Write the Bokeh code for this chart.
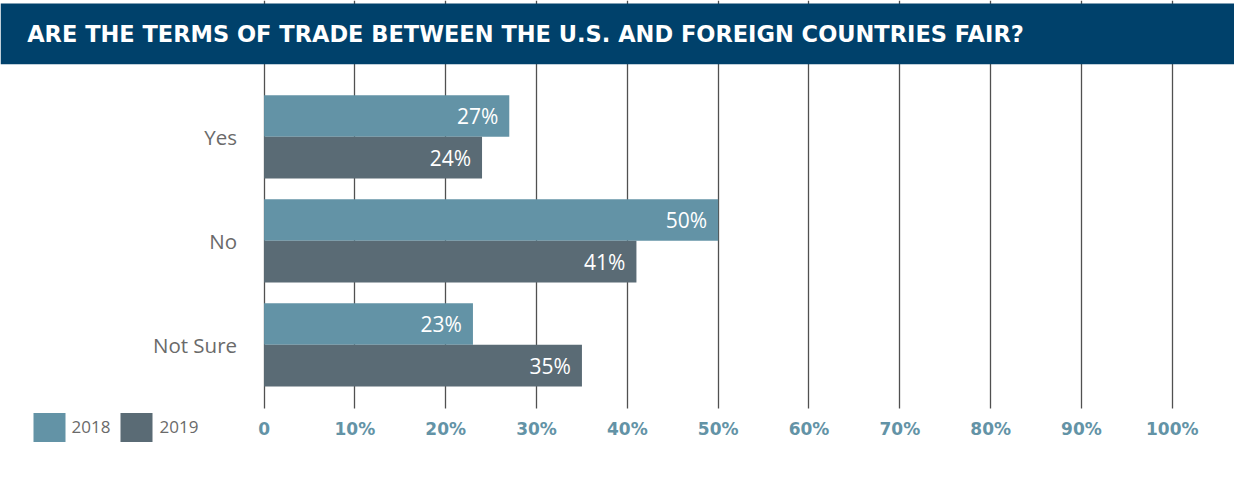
from bokeh.plotting import figure
from bokeh.models import (Range1d, FixedTicker, BoxAnnotation, Label, Legend, LegendItem,
                          ColumnDataSource, LinearAxis)
from bokeh.core.properties import value
from bokeh.embed import file_html
from bokeh.resources import INLINE

title_text = "ARE THE TERMS OF TRADE BETWEEN THE U.S. AND FOREIGN COUNTRIES FAIR?"
categories = ["Yes", "No", "Not Sure"]
years = ["2018", "2019"]
values_2018 = [27, 50, 23]
values_2019 = [24, 41, 35]
tick_values = [0, 10, 20, 30, 40, 50, 60, 70, 80, 90, 100]
tick_labels = ["0", "10%", "20%", "30%", "40%", "50%", "60%", "70%", "80%", "90%", "100%"]
colors = ["#6393a6", "#5a6b75"]

W, H = 1234, 471
n = len(categories)
cat_pos = [n - 1 - i for i in range(n)]  # Yes on top
grid_bottom = -0.613  # where the grid lines and the axis end

p = figure(width=W, height=H, output_backend="svg", toolbar_location=None,
           x_range=Range1d(-29.02, 106.85), y_range=Range1d(-1.218, 3.311),
           x_axis_location=None, y_axis_location=None,
           min_border_left=0, min_border_right=0, min_border_top=0, min_border_bottom=0,
           outline_line_color=None)
p.background_fill_color = "white"
p.border_fill_color = "white"

# grid
p.xgrid.ticker = FixedTicker(ticks=tick_values)
p.xgrid.grid_line_color = "#505050"
p.xgrid.grid_line_width = 1.3
p.ygrid.grid_line_color = None

# white area below the grid lines (covers the grid only)
p.add_layout(BoxAnnotation(top=grid_bottom, fill_color="white", fill_alpha=1,
                           line_color=None, level="underlay"))

# axis
ax = LinearAxis(fixed_location=grid_bottom)
ax.ticker = FixedTicker(ticks=tick_values)
ax.major_label_overrides = {t: l for t, l in zip(tick_values, tick_labels)}
ax.axis_line_color = None
ax.major_tick_line_color = None
ax.minor_tick_line_color = None
ax.major_tick_in = 0
ax.major_tick_out = 0
ax.major_label_standoff = 10
ax.major_label_text_font = "DejaVu Sans"
ax.major_label_text_font_style = "bold"
ax.major_label_text_font_size = "17px"
ax.major_label_text_color = "#6393a6"
p.add_layout(ax, "below")

src18 = ColumnDataSource(dict(y=[c + 0.2 for c in cat_pos], v=values_2018,
                              t=[f"{v}%" for v in values_2018]))
src19 = ColumnDataSource(dict(y=[c - 0.2 for c in cat_pos], v=values_2019,
                              t=[f"{v}%" for v in values_2019]))

r18 = p.hbar(y="y", right="v", left=0, height=0.4, source=src18, fill_color=colors[0], line_color=None)
r19 = p.hbar(y="y", right="v", left=0, height=0.4, source=src19, fill_color=colors[1], line_color=None)

for s in (src18, src19):
    p.text(x="v", y="y", text="t", source=s, x_offset=-11, text_align="right",
           text_baseline="middle", text_color="white", text_font=value("Open Sans"),
           text_font_size="21px")

csrc = ColumnDataSource(dict(x=[0] * n, y=cat_pos, t=categories))
p.text(x="x", y="y", text="t", source=csrc, x_offset=-27, text_align="right",
       text_baseline="middle", text_color="#6a6a6a", text_font=value("Open Sans"),
       text_font_size="20.5px")

# title bar
p.add_layout(BoxAnnotation(bottom=407.2, bottom_units="screen", top=468, top_units="screen",
                           fill_color="#00416b", fill_alpha=1, line_color=None))
p.add_layout(Label(x=26.7, y=437.2, x_units="screen", y_units="screen", text=title_text,
                   text_color="white", text_font="DejaVu Sans", text_font_style="bold",
                   text_font_size="22.5px", text_baseline="middle"))

legend = Legend(items=[LegendItem(label=years[0], renderers=[r18]),
                       LegendItem(label=years[1], renderers=[r19])],
                location=(28.6, 26.4), orientation="horizontal", padding=0, margin=0,
                spacing=6, glyph_width=40, glyph_height=36, label_height=36,
                label_standoff=3, label_text_font="Open Sans", label_text_font_size="17px",
                label_text_color="#6a6a6a", border_line_color=None,
                background_fill_alpha=0, label_text_baseline="middle")
p.add_layout(legend)

open("out.html", "w").write(file_html(p, INLINE))
